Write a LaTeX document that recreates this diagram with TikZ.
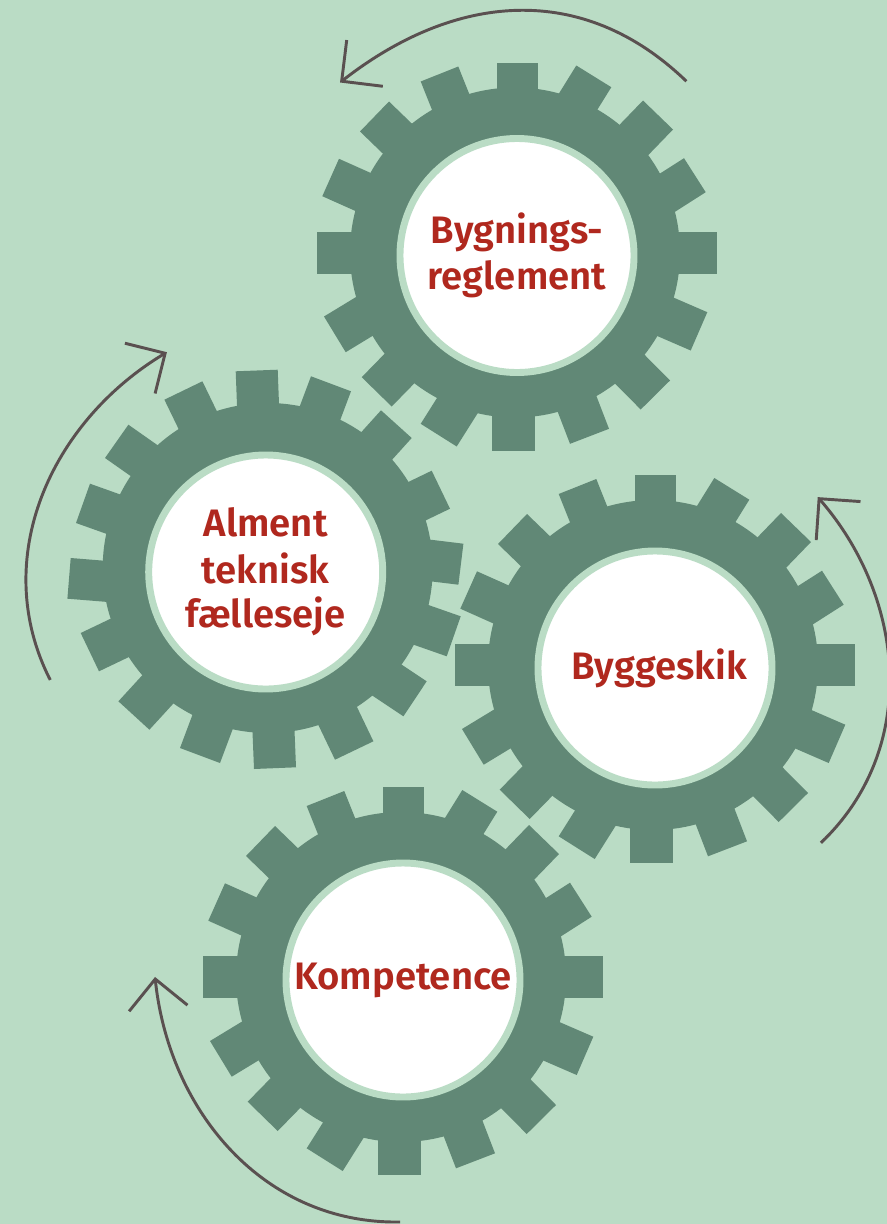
\documentclass[tikz,border=0pt]{standalone}
\usepackage{fontspec}
\setmainfont{Fira Sans}[BoldFont={Fira Sans SemiBold}]
\usetikzlibrary{arrows.meta,calc}
\definecolor{meadow}{HTML}{BADCC5}
\definecolor{cogcolor}{HTML}{618876}
\definecolor{labelred}{HTML}{B0281E}
\definecolor{arrowgrey}{HTML}{5A5050}
\tikzset{
  hub/.style={circle,fill=white,draw=meadow,line width=5.2pt,minimum size=175.5pt,inner sep=0pt,
    align=center,text=labelred,font=\fontsize{28.7}{35}\selectfont\bfseries},
  turn/.style={draw=arrowgrey,line width=2.2pt,
    -{Straight Barb[length=22pt,width=44pt,line width=2.2pt]}}
}
% corners of the teeth, two per tooth
\newcommand{\plainteeth}{199.7/-18.3/199.7/24, 188.7/63.3/167/97.3, 156/126/126/155, 94.3/168.3/59.3/190,
  21.3/192.7/-20.3/192.7, -58.7/189/-96.3/174, -128/154/-157/124, -178/96.7/-194.7/59.3,
  -199.7/24/-199.7/-18.3, -193/-61/-171.3/-96.7, -155.3/-121.7/-125.3/-151, -96.3/-168.3/-60.3/-191,
  -24.7/-195/17.7/-195, 53/-188.3/92/-173.3, 123.7/-154/153/-125, 173.7/-95/190.3/-56.7}
\newcommand{\turnedteeth}{192.7/-12.7/197.7/28.3, 184.3/63.3/166/101.3, 146/134/115.3/161.7, 85.3/180.7/45.3/195.7,
  12/202.3/-30/200.7, -63.3/190.7/-101.3/172.3, -137.3/147.3/-160.7/114, -175.7/88.3/-189.7/49,
  -195/14/-198.3/-26.7, -185/-61/-166.7/-99.3, -147.3/-129.3/-116.3/-157.7, -85.7/-176/-45.7/-191,
  -11.7/-197/30.3/-195.3, 69.3/-187.7/107.7/-169.3, 137.7/-144.3/161/-109.3, 181/-84.3/195/-44.3}
% one cog: centre, middle of the rim, teeth, name, text
\newcommand{\cogwheel}[5]{
  \begin{scope}[shift={(#1)}]
    \fill[cogcolor] (#2) circle (165);
    \foreach \ax/\ay/\bx/\by in #3
      \fill[cogcolor] (\ax,\ay) -- (\bx,\by) -- ($(\bx,\by)!36pt!-90:(\ax,\ay)$) -- ($(\ax,\ay)!36pt!90:(\bx,\by)$) -- cycle;
  \end{scope}
  \node [hub] (#4) at (#1) {#5};
}
\begin{document}
\begin{tikzpicture}[x=.75pt,y=.75pt]
    \fill[meadow] (0,0) rectangle (887,-1224);
    \useasboundingbox (0,0) rectangle (887,-1224);

    \cogwheel{517,-255.5}{-2,3}{\plainteeth}{regler}{Bygnings-\\reglement}
    \cogwheel{265.7,-572}{2,4}{\turnedteeth}{faelles}{\raisebox{-1.5pt}{Alment}\\\raisebox{-1.5pt}{teknisk}\\fælleseje}
    \cogwheel{655,-668}{-2,3}{\plainteeth}{skik}{\hspace*{6pt}\raisebox{-1.5pt}{Byggeskik}}
    \cogwheel{403,-980}{-2,3}{\plainteeth}{kompetence}{\raisebox{-2.5pt}{Kompetence}}

    \draw[turn] ([shift={(45.8:243)}]regler.center) to [out=136,in=38,looseness=1.07] ([shift={(135.65:247.5)}]regler.center);
    \draw[turn] ([shift={(206.6:241)}]faelles.center) to [out=117,in=211] ([shift={(114.2:241)}]faelles.center);
    \draw[turn] ([shift={(-46.5:241)}]skik.center) to [out=43.5,in=-49] ([shift={(46.4:236)}]skik.center);
    \draw[turn] ([shift={(-90.7:242)}]kompetence.center) to [out=181,in=276] ([shift={(-180.7:248)}]kompetence.center);
\end{tikzpicture}
\end{document}
